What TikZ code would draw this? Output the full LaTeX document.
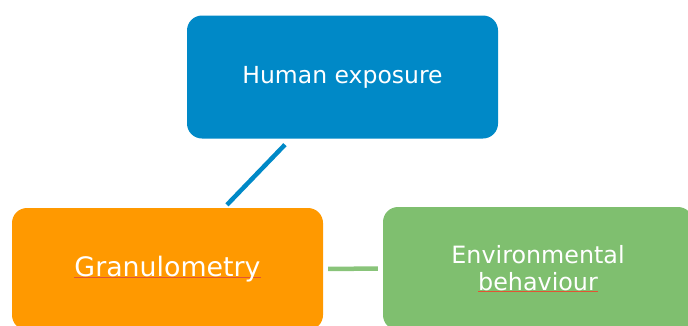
\documentclass[tikz,border=0pt]{standalone}
\usepackage{fontspec}
\setmainfont{DejaVu Sans}
\usetikzlibrary{positioning}

\definecolor{expblue}{RGB}{0,137,199}
\definecolor{granorange}{RGB}{255,153,0}
\definecolor{envgreen}{RGB}{127,191,111}
\definecolor{linkgreen}{RGB}{137,196,122}
\definecolor{spellred}{RGB}{226,84,52}

% red spell-check mark under a word
\newcommand\spellmark[1]{\setbox0\hbox{#1}\rlap{\color{spellred}\rule[-1.5pt]{\wd0}{0.8pt}}\box0}

\begin{document}
\begin{tikzpicture}[x=1pt, y=-1pt]
    \tikzstyle{topic} = [rectangle, rounded corners=15pt, text=white, align=center, inner sep=0pt]
    \tikzstyle{link} = [line width=4.5pt]

    \clip (0,0) rectangle (688,325);

    \node (human) [topic, fill=expblue, minimum width=311pt, minimum height=123pt, font=\fontsize{23.5}{27}\selectfont] at (342.5,77) {Human exposure};
    \node (granulo) [topic, fill=granorange, minimum width=311pt, minimum height=122pt, font=\fontsize{26.8}{30}\selectfont] at (167.5,269) {\spellmark{Granulometry}};
    \node (envir) [topic, fill=envgreen, minimum width=310pt, minimum height=123pt, font=\fontsize{23.8}{26.7}\selectfont] at (538,268.5) {Environmental\\\spellmark{behaviour}};

    % Links
    \draw [link, expblue, shorten <=8.3pt, shorten >=4.1pt] ([xshift=-51.8pt]human.south) -- ([xshift=56.6pt]granulo.north);
    \draw [link, linkgreen, shorten <=5pt, shorten >=5pt] (granulo.east) -- (envir.west);
  \end{tikzpicture}
\end{document}
